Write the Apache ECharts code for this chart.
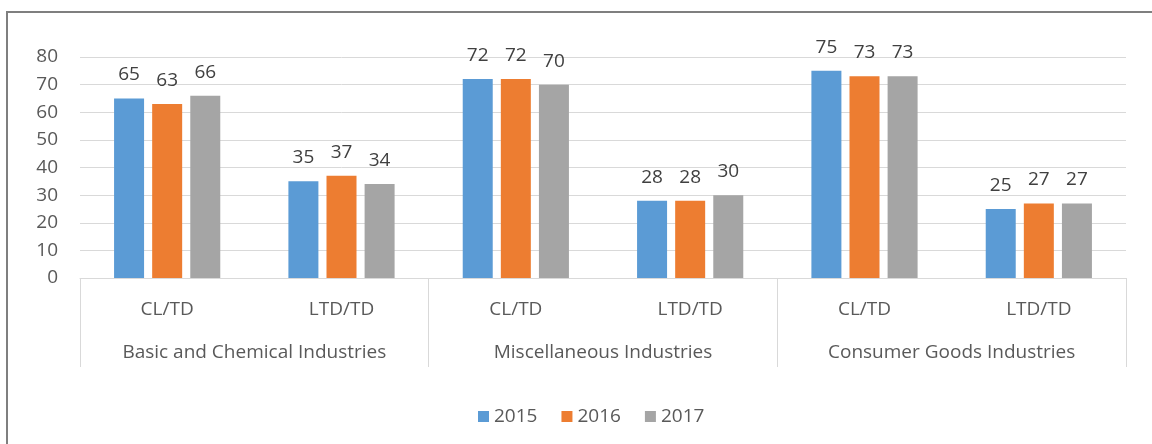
<!DOCTYPE html>
<html><head><meta charset="utf-8">
<script src="https://cdn.jsdelivr.net/npm/echarts@6/dist/echarts.min.js"></script>
<style>html,body{margin:0;padding:0;background:#fff}#c{width:1152px;height:444px}</style>
</head><body><div id="c"></div>
<script>
const subCategories = ['CL/TD','LTD/TD','CL/TD','LTD/TD','CL/TD','LTD/TD'];
const industries = ['Basic and Chemical Industries','Miscellaneous Industries','Consumer Goods Industries'];
const seriesNames = ['2015','2016','2017'];
const v2015 = [65,35,72,28,75,25];
const v2016 = [63,37,72,28,73,27];
const v2017 = [66,34,70,30,73,27];
const yTicks = [0,10,20,30,40,50,60,70,80];
const colors = ['#5b9bd5','#ed7d31','#a5a5a5'];
const FONT = 'Open Sans';
const FS = 19;
const chart = echarts.init(document.getElementById('c'), null, {renderer:'canvas'});
const values = [v2015, v2016, v2017];
chart.setOption({
  animation:false,
  textStyle:{fontFamily:FONT},
  color:colors,
  graphic:[{type:'rect',shape:{x:7,y:12,width:1170,height:460},style:{fill:'none',stroke:'#7f7f7f',lineWidth:2},silent:true}],
  grid:{left:80,right:26,top:57,bottom:166},
  legend:{data:seriesNames,left:473,top:402,icon:'rect',itemWidth:11,itemHeight:11,itemGap:24,
    textStyle:{fontFamily:FONT,fontSize:FS,color:'#595959'}},
  xAxis:[{type:'category',data:subCategories,position:'bottom',
      axisLine:{show:true,lineStyle:{color:'#d9d9d9',width:1}},axisTick:{show:false},
      axisLabel:{margin:22,fontSize:FS,color:'#595959',fontFamily:FONT,interval:0}},
    {type:'category',data:industries,position:'bottom',gridIndex:0,
      axisLine:{show:false},axisTick:{show:true,length:89,interval:0,lineStyle:{color:'#d9d9d9'}},
      axisLabel:{margin:65,fontSize:FS,color:'#595959',fontFamily:FONT,interval:0}}],
  yAxis:{type:'value',min:yTicks[0],max:yTicks[yTicks.length-1],interval:10,
    axisLine:{show:false},axisTick:{show:false},
    splitLine:{lineStyle:{color:'#d9d9d9'}},
    axisLabel:{margin:22,fontSize:FS,color:'#595959',fontFamily:FONT}},
  series: seriesNames.map((n,i)=>({name:n,type:'bar',xAxisIndex:0,data:values[i],
    barWidth:30,barGap:'27%',
    label:{show:true,position:'top',distance:14,fontSize:FS,color:'#404040',fontFamily:FONT}}))
});
</script></body></html>
